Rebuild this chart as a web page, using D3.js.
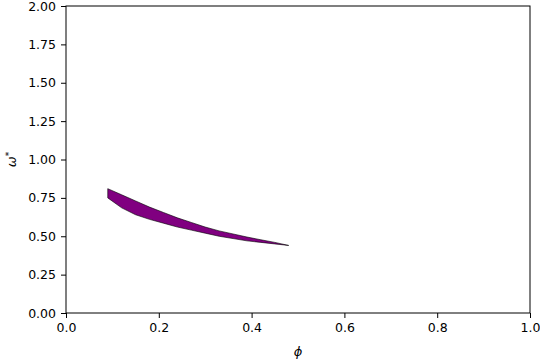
<!DOCTYPE html>
<html>
<head>
<meta charset=utf-8>
<title>omega star vs phi</title>
<style>
body{margin: 0; background: white;}
svg text{font-family: 'DejaVu Sans', sans-serif; fill: black;}
.axis path, .axis line{stroke: black; stroke-width: 1px;}
.axis text{font-size: 12.5px;}
</style>
</head>
<body>
<div id=chart></div>
<script src='https://cdn.jsdelivr.net/npm/d3@7/dist/d3.min.js'></script>
<script>
//data
var phi   = [0.09, 0.12, 0.15, 0.18, 0.21, 0.24, 0.27, 0.30, 0.33, 0.36, 0.39, 0.42, 0.45, 0.48];
var upper = [0.81, 0.77, 0.73, 0.69, 0.655, 0.62, 0.59, 0.56, 0.535, 0.515, 0.495, 0.477, 0.46, 0.44];
var lower = [0.75, 0.685, 0.64, 0.61, 0.585, 0.56, 0.54, 0.52, 0.50, 0.485, 0.47, 0.46, 0.45, 0.44];
var xTicks = [0, 0.2, 0.4, 0.6, 0.8, 1.0];
var yTicks = [0, 0.25, 0.5, 0.75, 1.0, 1.25, 1.5, 1.75, 2.0];

var W = 540, H = 360;
var margin = {top: 6, right: 10, bottom: 47, left: 66};
var width = W - margin.left - margin.right;
var height = H - margin.top - margin.bottom;

var svg = d3.select('#chart').append('svg')
    .attr('width', W)
    .attr('height', H);

var g = svg.append('g')
    .attr('transform', 'translate(' + margin.left + ',' + margin.top + ')');

var x = d3.scaleLinear().domain([0, 1]).range([0, width]);
var y = d3.scaleLinear().domain([0, 2]).range([height, 0]);

var rows = phi.map((p, i) => ({p: p, lo: lower[i], hi: upper[i]}));

var area = d3.area()
    .x(d => x(d.p))
    .y0(d => y(d.lo))
    .y1(d => y(d.hi));

g.append('path')
    .datum(rows)
    .attr('fill', '#800080')
    .attr('stroke', 'black')
    .attr('stroke-width', 0.6)
    .attr('d', area);

//frame
g.append('rect')
    .attr('width', width)
    .attr('height', height)
    .attr('fill', 'none')
    .attr('stroke', 'black')
    .attr('stroke-width', 1);

g.append('g')
    .attr('class', 'axis')
    .attr('transform', 'translate(0,' + height + ')')
    .call(d3.axisBottom(x).tickValues(xTicks).tickFormat(d3.format('.1f')).tickSize(5).tickPadding(5))
    .call(a => a.select('.domain').remove());

g.append('g')
    .attr('class', 'axis')
    .call(d3.axisLeft(y).tickValues(yTicks).tickFormat(d3.format('.2f')).tickSize(5).tickPadding(5))
    .call(a => a.select('.domain').remove());

//axis titles
g.append('text')
    .attr('text-anchor', 'middle')
    .attr('x', width/2)
    .attr('y', height + 43)
    .attr('font-size', '13px')
    .attr('font-style', 'italic')
    .text('\u03d5');

var yl = g.append('text')
    .attr('text-anchor', 'middle')
    .attr('transform', 'translate(-50,' + (height/2) + ') rotate(-90)')
    .attr('font-size', '13px');
yl.append('tspan').attr('font-style', 'italic').text('\u03c9');
yl.append('tspan').attr('dy', '-0.45em').attr('font-size', '9px').text('*');
</script>
</body>
</html>
